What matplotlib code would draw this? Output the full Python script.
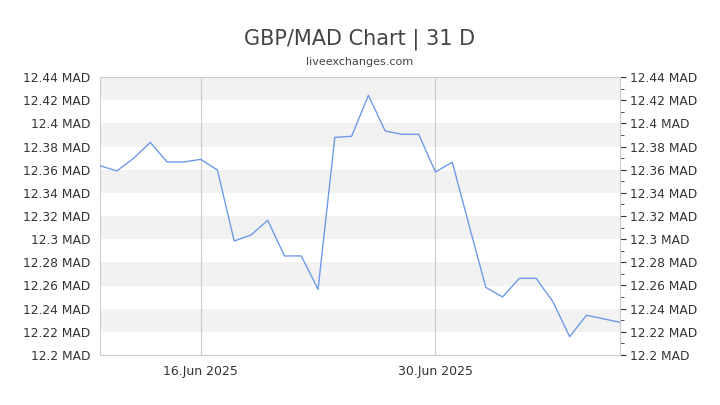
"""GBP/MAD 31-day chart."""

import matplotlib
matplotlib.use("Agg")
import matplotlib.pyplot as plt
import numpy as np
import pandas as pd
from matplotlib.ticker import FuncFormatter, MultipleLocator

start_date = "2025-06-10"
rates = [
    12.3634, 12.3589, 12.3698, 12.3836, 12.3666, 12.3666, 12.3689, 12.3597,
    12.2984, 12.3036, 12.3163, 12.2855, 12.2855, 12.2567, 12.3879, 12.3888,
    12.4242, 12.3934, 12.3905, 12.3905, 12.3580, 12.3664, 12.3122, 12.2584,
    12.2501, 12.2662, 12.2662, 12.2460, 12.2158, 12.2343, 12.2313, 12.2282,
]
tick_dates = ["2025-06-16", "2025-06-30"]
y_min, y_max, y_step = 12.20, 12.44, 0.02

dates = pd.date_range(start_date, periods=len(rates), freq="D")

fig = plt.figure(figsize=(7.2, 4.05), dpi=100)
ax = fig.add_axes([100 / 720, 50 / 405, 520 / 720, 278 / 405])

# alternating bands
levels = np.arange(y_min, y_max + 1e-9, y_step)
for i, lo in enumerate(levels[:-1]):
    if i % 2 == 1:
        ax.axhspan(lo, lo + y_step, color="#f2f2f2", lw=0, zorder=0)

ax.plot(dates, rates, color="#6d9be9", lw=1.0, zorder=3)

ax.set_xlim(dates[0], dates[-1])
ax.set_ylim(y_min, y_max)

ticks = pd.to_datetime(tick_dates)
ax.set_xticks(ticks)
ax.set_xticklabels([d.strftime("%d.%b %Y") for d in ticks])
for t in ticks:
    ax.axvline(t, color="#cccccc", lw=0.8, zorder=1)

ax.yaxis.set_major_locator(MultipleLocator(y_step))
ax.yaxis.set_minor_locator(MultipleLocator(y_step / 2))
ax.yaxis.set_major_formatter(FuncFormatter(lambda v, _: f"{float(f'{v:.2f}'):g} MAD"))

ax.tick_params(axis="x", length=0, pad=7, labelsize=9, labelcolor="#333333")
ax.tick_params(axis="y", which="both", left=False, right=True,
               labelleft=True, labelright=True, labelsize=8.8,
               labelcolor="#333333", color="#333333")
ax.tick_params(axis="y", which="major", length=4, pad=3)
ax.tick_params(axis="y", which="minor", length=3)

for s in ax.spines.values():
    s.set_color("#cccccc")
    s.set_linewidth(0.8)

fig.text(0.5, 1 - 39 / 405, "GBP/MAD Chart | 31 D", ha="center", va="center",
         fontsize=15, color="#444444")
fig.text(0.5, 1 - 62 / 405, "liveexchanges.com", ha="center", va="center",
         fontsize=8, color="#444444")

fig.savefig("out.png", dpi=100)
